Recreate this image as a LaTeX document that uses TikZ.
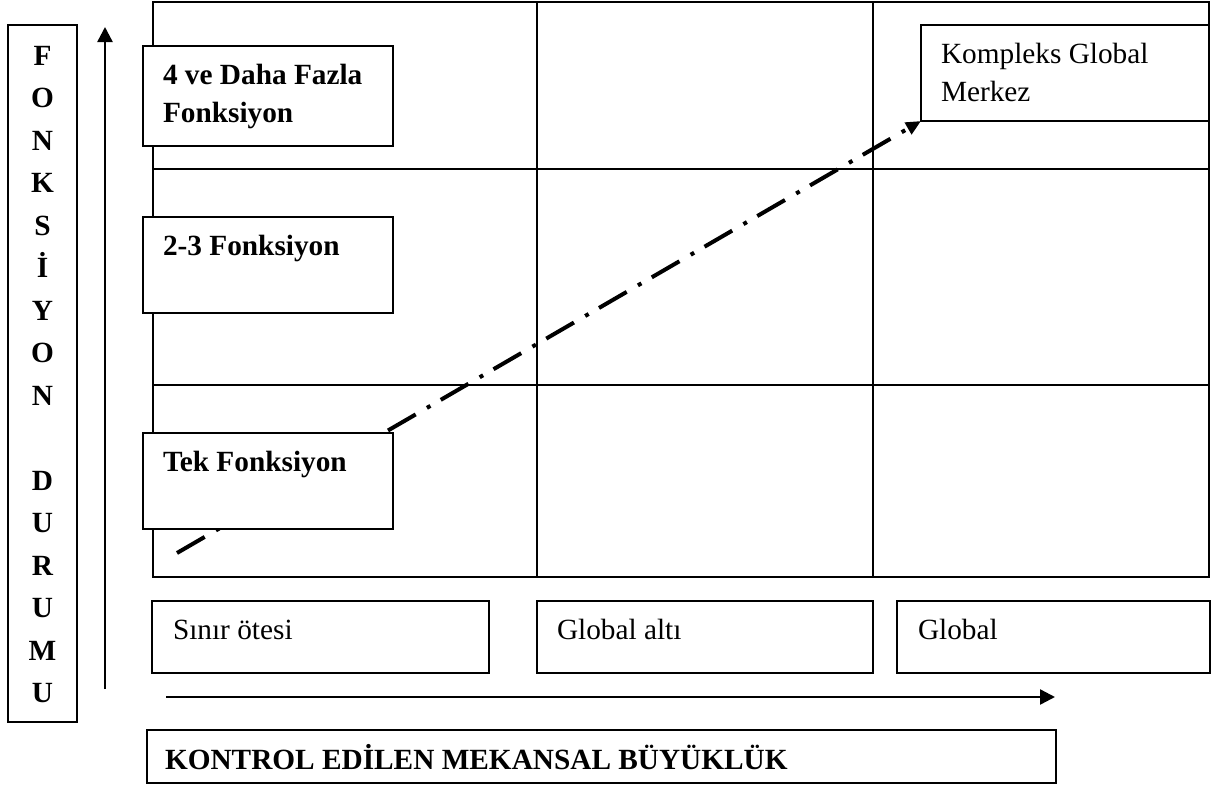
\documentclass[tikz,border=0pt]{standalone}
\usepackage{fontspec}
\setmainfont{Liberation Serif}
\usetikzlibrary{arrows.meta,calc}
\newcommand{\fsz}{\fontsize{29.3}{38}\selectfont}
\newcommand{\vsz}{\fontsize{29.3}{42.5}\selectfont}
\tikzset{
  box/.style={draw, line width=1.5pt, fill=white, inner sep=0pt, outer sep=0pt, anchor=north west},
  lbl/.style={inner sep=0pt, outer sep=0pt, anchor=base west, font=\fsz},
  gridline/.style={line width=1.5pt},
  axis/.style={line width=2.4pt, -{Triangle[length=15pt,width=15pt]}},
  trend/.style={line width=4pt, dash pattern=on 32pt off 13pt on 4pt off 12pt, -{Triangle[length=15pt,width=13pt]}}
}
\begin{document}
\begin{tikzpicture}[x=1pt,y=-1pt]
\useasboundingbox (0,0) rectangle (1219,788);
% grid
\draw[gridline] (153,2) rectangle (1209,577);
\draw[gridline] (537,2) -- (537,577);
\draw[gridline] (873,2) -- (873,577);
\draw[gridline] (153,169) -- (1209,169);
\draw[gridline] (153,385) -- (1209,385);
% boxes in the grid
\node[box, minimum width=288, minimum height=96] (kgm) at (921,25) {};
\node[lbl] (kgmt) at ($(kgm.north west)+(20,38)$) {\begin{tabular}[t]{@{}l@{}}Kompleks Global\\Merkez\end{tabular}};
\node[box, minimum width=250, minimum height=100] (f4) at (143,46) {};
\node[lbl] (f4t) at ($(f4.north west)+(20,38)$) {\bfseries\begin{tabular}[t]{@{}l@{}}4 ve Daha Fazla\\Fonksiyon\end{tabular}};
\node[box, minimum width=250, minimum height=96] (f23) at (143,217) {};
\node[lbl] (f23t) at ($(f23.north west)+(20,38)$) {\bfseries 2-3 Fonksiyon};
% trend line
\coordinate (tstart) at (177,553);
\draw[trend] (tstart) -- (kgm.south west);
\node[box, minimum width=250, minimum height=96] (f1) at (143,433) {};
\node[lbl] (f1t) at ($(f1.north west)+(20,38)$) {\bfseries Tek Fonksiyon};
% bottom scale boxes
\node[box, minimum width=337, minimum height=72] (s1) at (152,601) {};
\node[lbl] (s1t) at ($(s1.north west)+(21,38)$) {S\i n\i r ötesi};
\node[box, minimum width=336, minimum height=72] (s2) at (537,601) {};
\node[lbl] (s2t) at ($(s2.north west)+(20,38)$) {Global alt\i};
\node[box, minimum width=313, minimum height=72] (s3) at (897,601) {};
\node[lbl] (s3t) at ($(s3.north west)+(21,38)$) {Global};
% x axis
\coordinate (xa) at (166,697);
\coordinate (xb) at (1055,697);
\draw[axis] (xa) -- (xb);
\node[box, minimum width=909, minimum height=53] (kx) at (147,730) {};
\node[lbl] (kxt) at ($(kx.north west)+(18,39)$) {\bfseries KONTROL EDİLEN MEKANSAL BÜYÜKLÜK};
% y axis
\coordinate (ya) at (105,689);
\coordinate (yb) at (105,27);
\draw[axis] (ya) -- (yb);
\node[box, minimum width=69, minimum height=697] (ky) at (8,25) {};
\node[inner sep=0pt, anchor=base, font=\vsz\bfseries] (kyt) at (42.5,65) {\begin{tabular}[t]{@{}c@{}}F\\O\\N\\K\\S\\İ\\Y\\O\\N\\ \\D\\U\\R\\U\\M\\U\end{tabular}};
\end{tikzpicture}
\end{document}
